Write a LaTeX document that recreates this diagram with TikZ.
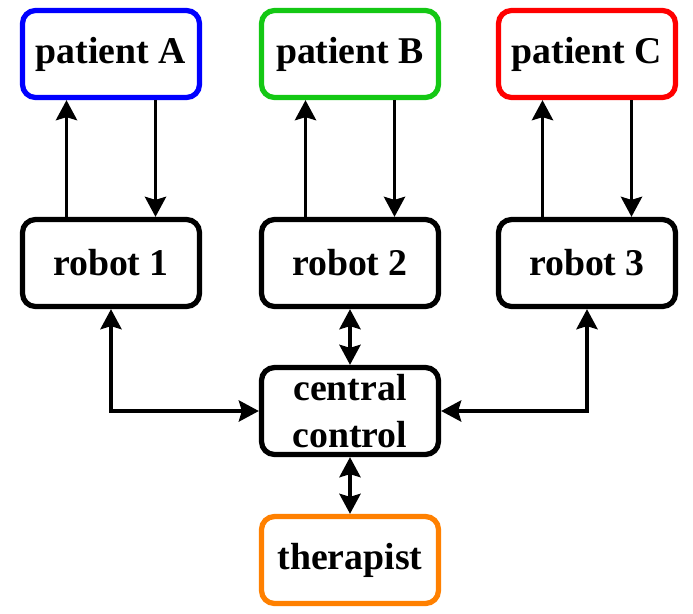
\documentclass[tikz,border=0pt]{standalone}
\usepackage{fontspec}
\setmainfont{Liberation Serif}
\usetikzlibrary{arrows.meta}

\definecolor{pblue}{RGB}{0,0,255}
\definecolor{pgreen}{RGB}{20,200,20}
\definecolor{pred}{RGB}{255,0,0}
\definecolor{porange}{RGB}{255,128,0}

\tikzset{
    unit/.style={draw=black, line width=3pt, rounded corners=0.26cm,
        minimum width=3.54cm, minimum height=1.74cm, inner sep=0pt,
        align=center, font=\fontsize{21.5}{26.5}\selectfont\bfseries},
    link/.style={line width=2.2pt, -{Stealth[length=0.4cm,width=0.42cm,inset=0.06cm]}},
    dlink/.style={line width=2.2pt, {Stealth[length=0.4cm,width=0.42cm,inset=0.06cm]}-{Stealth[length=0.4cm,width=0.42cm,inset=0.06cm]}}
}

\begin{document}
\begin{tikzpicture}
    \useasboundingbox (0,0) rectangle (13.86,-12.26);

    % Patients
    \node[unit, draw=pblue] (patA) at (2.22,-1.08) {patient A};
    \node[unit, draw=pgreen] (patB) at (7.0,-1.08) {patient B};
    \node[unit, draw=pred] (patC) at (11.74,-1.08) {patient C};

    % Robots
    \node[unit] (rob1) at (2.22,-5.26) {robot 1};
    \node[unit] (rob2) at (7.0,-5.26) {robot 2};
    \node[unit] (rob3) at (11.74,-5.26) {robot 3};

    % Central control and therapist
    \node[unit] (ctrl) at (7.0,-8.22) {central\\control};
    \node[unit, draw=porange] (ther) at (7.0,-11.2) {therapist};

    % Robot <-> patient
    \foreach \r/\p in {rob1/patA, rob2/patB, rob3/patC}{
        \draw[link] ([xshift=-0.89cm]\r.north) -- ([xshift=-0.89cm]\p.south);
        \draw[link] ([xshift=0.89cm]\p.south) -- ([xshift=0.89cm]\r.north);
    }

    % Robots <-> central control
    \draw[dlink] (rob1.south) |- (ctrl.west);
    \draw[dlink] (rob3.south) |- (ctrl.east);
    \draw[dlink] (rob2.south) -- (ctrl.north);
    \draw[dlink] (ctrl.south) -- (ther.north);
\end{tikzpicture}
\end{document}
